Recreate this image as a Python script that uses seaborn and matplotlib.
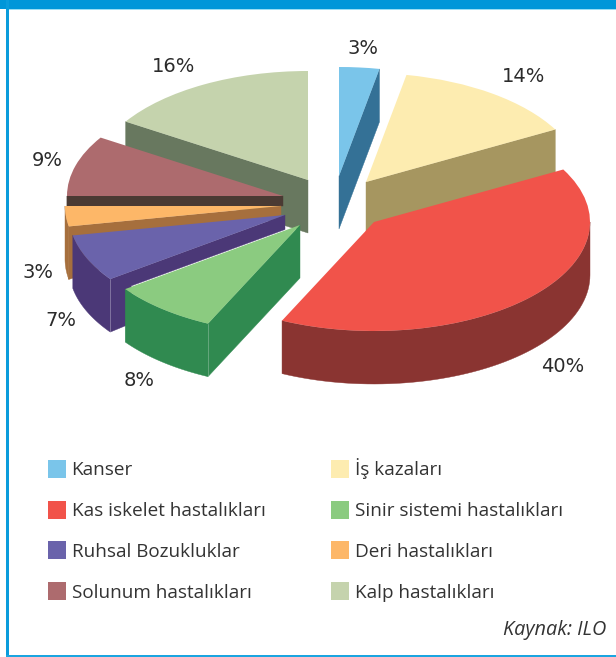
import numpy as np
import matplotlib
matplotlib.use("Agg")
import matplotlib.pyplot as plt
from matplotlib.patches import Patch, Polygon, Rectangle
from matplotlib.transforms import Affine2D
import seaborn as sns

categories = ["Kanser", "İş kazaları", "Kas iskelet hastalıkları", "Sinir sistemi hastalıkları",
              "Ruhsal Bozukluklar", "Deri hastalıkları", "Solunum hastalıkları", "Kalp hastalıkları"]
values = [3, 14, 40, 8, 7, 3, 9, 16]
value_labels = ["3%", "14%", "40%", "8%", "7%", "3%", "9%", "16%"]

top_colors = ["#7AC5EA", "#FDECB0", "#F1534A", "#8BCB80", "#6A63AB", "#FDB768", "#AD6B6E", "#C5D3AD"]
side_colors = ["#347196", "#A69660", "#8A3431", "#308A50", "#4B3877", "#A66F3D", "#4A3A33", "#68785F"]

sns.set_theme(style="white")
plt.rcParams["font.family"] = ["DejaVu Sans"]

# layout (pixels)
W, H = 616, 657
RX, RY, DEPTH = 216, 109, 53
apex = [(339, 176), (366, 182), (374, 222), (300, 225), (285, 215), (281, 206), (283, 196), (308, 180)]
draw_order = [7, 0, 1, 6, 5, 4, 3, 2]
# (edge, depth at apex, depth at rim, knee fraction) for the straight side walls
radial = {0: ("t1", 53, 53, None), 1: ("t1", 53, 53, None), 3: ("t2", 53, 53, None),
          4: ("t2", 14.5, 53, 0.12), 5: ("t2", 9, 53, None), 6: ("t2", 10, 10, None), 7: ("t2", 53, 53, None)}
label_pos = [(363, 49), (524, 76), (563, 366), (139, 380), (61, 320), (38, 272), (47, 160), (174, 66)]

fig = plt.figure(figsize=(W / 100, H / 100), dpi=100)
ax = fig.add_axes([0, 0, 1, 1])
wedges, _ = ax.pie(values, colors=sns.color_palette(top_colors), startangle=90, counterclock=False,
                   wedgeprops=dict(linewidth=0))
ax.set_aspect("auto")
ax.set_xlim(0, W)
ax.set_ylim(H, 0)
ax.axis("off")


def rim(i, deg):
    a = np.radians(deg)
    return np.array([apex[i][0] + RX * np.cos(a), apex[i][1] - RY * np.sin(a)])


for z, i in enumerate(draw_order):
    w = wedges[i]
    base = 10 + 3 * z
    w.set_transform(Affine2D().scale(RX, -RY).translate(*apex[i]) + ax.transData)
    w.set_zorder(base + 2)
    side = side_colors[i]
    # straight wall
    if i in radial:
        edge, d_in, d_out, knee = radial[i]
        p_out = rim(i, w.theta1 if edge == "t1" else w.theta2)
        p_in = np.array(apex[i], float)
        pts = [p_in, p_out, p_out + [0, d_out]]
        if knee:
            k = p_out + knee * (p_in - p_out)
            pts += [k + [0, d_out - 1], k + [0, d_in]]
        pts.append(p_in + [0, d_in])
        ax.add_patch(Polygon(pts, closed=True, fc=side, ec=side, lw=0.3, zorder=base))
    # curved outer wall, front half only
    t1, t2 = max(w.theta1, -180), min(w.theta2, 0)
    if t2 > t1:
        ts = np.linspace(t1, t2, 60)
        arc = np.array([rim(i, t) for t in ts])
        pts = np.vstack([arc, arc[::-1] + [0, DEPTH]])
        ax.add_patch(Polygon(pts, closed=True, fc=side, ec=side, lw=0.3, zorder=base + 1))
    # pale seam on the front corner
    if i in (3, 4):
        c = rim(i, w.theta2)
        ax.plot([c[0], c[0]], [c[1], c[1] + DEPTH], color="white", alpha=0.25, lw=0.7, zorder=base + 1.5)

for (x, y), s in zip(label_pos, value_labels):
    ax.text(x, y, s, ha="center", va="center", fontsize=14, color="#2B2B2B", zorder=60)

# legend, filled by columns to read row by row
legend_order = [0, 2, 4, 6, 1, 3, 5, 7]
handles = [Patch(fc=top_colors[i], ec="none", label=categories[i]) for i in legend_order]
fs = 13.55
px = fs * 100 / 72
ax.legend(handles=handles, ncol=2, frameon=False, loc="upper left", bbox_to_anchor=(40 / W, 1 - 451 / H),
          prop=dict(family="Open Sans", size=fs), labelcolor="#333333", borderaxespad=0, borderpad=0.4,
          handlelength=18 / px, handleheight=(18 / px - 0.245) / 0.65, handletextpad=6 / px,
          labelspacing=21.3 / px, columnspacing=66 / px)

ax.text(606, 630, "Kaynak: ILO", ha="right", va="center", family="Open Sans", style="italic",
        fontsize=14.3, color="#333333", zorder=60)

# page frame
ax.add_patch(Rectangle((0, 0), W, 9, fc="#0096D9", ec="none", zorder=70))
ax.add_patch(Rectangle((6, 0), 2.5, H, fc="#0A9CDC", ec="none", zorder=70))
ax.add_patch(Rectangle((9, 9), W, 1, fc="#9ADDF4", ec="none", zorder=70))
ax.add_patch(Rectangle((6, 654.5), W, 2, fc="#1BA5E0", ec="none", zorder=70))

fig.savefig("out.png", dpi=100)
